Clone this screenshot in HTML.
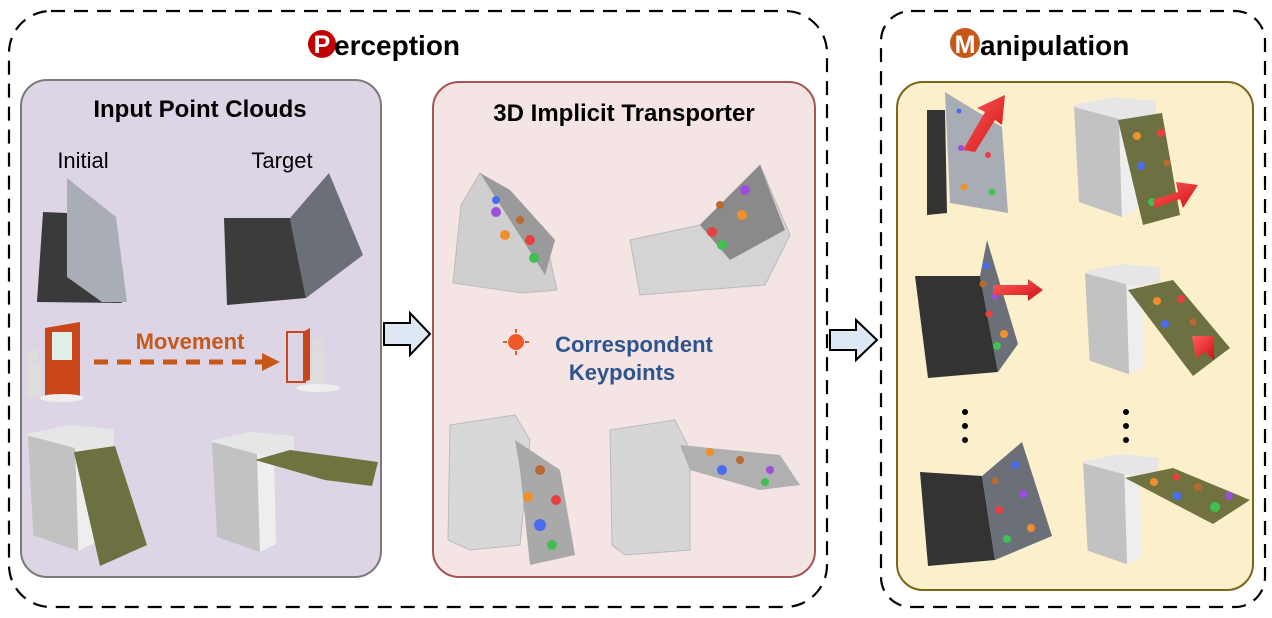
<!DOCTYPE html>
<html><head><meta charset="utf-8"><style>
html,body{margin:0;padding:0;background:#fff;}
svg{display:block;}
text{font-family:"Liberation Sans","DejaVu Sans",sans-serif;}
</style></head><body>
<svg width="1272" height="618" viewBox="0 0 1272 618" xmlns="http://www.w3.org/2000/svg">
<defs>
<linearGradient id="gr" x1="0" y1="0" x2="1" y2="1"><stop offset="0" stop-color="#ff6060"/><stop offset="1" stop-color="#d01010"/></linearGradient>
<g id="box">
 <polygon points="0,8 40,0 82,4 82,20 45,26 0,14" fill="#e6e6e6"/>
 <polygon points="0,10 45,22 48,120 5,105" fill="#c2c2c2"/>
 <polygon points="45,22 62,26 64,112 48,120" fill="#eeeeee"/>
</g>
</defs>

<rect x="9" y="11" width="818" height="596" rx="42" fill="none" stroke="#000" stroke-width="2.2" stroke-dasharray="14,9"/>
<rect x="881" y="11" width="384" height="596" rx="30" fill="none" stroke="#000" stroke-width="2.2" stroke-dasharray="14,9"/>

<circle cx="322" cy="44" r="14" fill="#c00000"/>
<text x="322" y="53" font-size="25" font-weight="bold" fill="#fff" text-anchor="middle">P</text>
<text x="334" y="55" font-size="28" font-weight="bold" fill="#000">erception</text>
<circle cx="965" cy="43" r="15" fill="#c8581a"/>
<text x="965" y="53" font-size="25" font-weight="bold" fill="#fff" text-anchor="middle">M</text>
<text x="980" y="55" font-size="28" font-weight="bold" fill="#000">anipulation</text>

<rect x="21" y="80" width="360" height="497" rx="26" fill="#ddd5e6" stroke="#7a7a7a" stroke-width="2"/>
<rect x="433" y="82" width="382" height="495" rx="26" fill="#f5e4e4" stroke="#a55555" stroke-width="2"/>
<rect x="897" y="82" width="356" height="508" rx="26" fill="#fcf0cc" stroke="#7d6418" stroke-width="2"/>

<text x="200" y="117" font-size="24" font-weight="bold" text-anchor="middle">Input Point Clouds</text>
<text x="624" y="121" font-size="24" font-weight="bold" text-anchor="middle">3D Implicit Transporter</text>
<text x="83" y="168" font-size="22" text-anchor="middle">Initial</text>
<text x="282" y="168" font-size="22" text-anchor="middle">Target</text>

<!-- input laptops -->
<polygon points="43,212 67,213 122,303 37,302" fill="#3a3a3a"/>
<polygon points="67,178 116,217 127,302 102,302 67,277" fill="#a9aeb6"/>
<polygon points="224,218 290,218 306,298 227,305" fill="#3c3c3c"/>
<polygon points="290,218 329,173 363,255 306,298" fill="#6b6f78"/>

<!-- movement -->
<polygon points="45,328 80,322 80,396 45,400" fill="#c8461a"/>
<rect x="52" y="332" width="20" height="28" fill="#dff0e8"/>
<circle cx="33" cy="355" r="6" fill="#ddd"/><rect x="27" y="362" width="15" height="35" fill="#ddd"/>
<ellipse cx="62" cy="398" rx="22" ry="4" fill="#eee"/>
<text x="190" y="349" font-size="22" font-weight="bold" fill="#c8581a" text-anchor="middle">Movement</text>
<line x1="94" y1="362" x2="265" y2="362" stroke="#c8581a" stroke-width="5" stroke-dasharray="14,9"/>
<polygon points="262,353 280,362 262,371" fill="#c8581a"/>
<rect x="287" y="332" width="18" height="50" fill="none" stroke="#c8461a" stroke-width="2"/>
<polygon points="303,332 310,328 310,380 303,382" fill="#c8461a"/>
<circle cx="317" cy="343" r="6" fill="#ddd"/><rect x="310" y="350" width="13" height="36" fill="#ddd"/>
<ellipse cx="318" cy="388" rx="22" ry="4" fill="#eee"/>

<!-- input boxes -->
<g transform="translate(28,425) scale(1.05)"><use href="#box"/></g>
<polygon points="74,452 115,446 147,545 100,566" fill="#6d7040"/>
<g transform="translate(212,432)"><use href="#box"/></g>
<polygon points="255,460 290,450 378,462 372,486 325,480" fill="#70733f"/>

<!-- arrows -->
<polygon points="384,323 410,323 410,313 430,334 410,355 410,345 384,345" fill="#dde8f4" stroke="#000" stroke-width="2"/>
<polygon points="830,330 856,330 856,320 877,340 856,360 856,350 830,350" fill="#dde8f4" stroke="#000" stroke-width="2"/>

<!-- transporter meshes -->
<polygon points="453,283 461,205 480,173 543,227 557,290 522,293" fill="#cfcfcf" stroke="#bbb"/>
<polygon points="480,173 510,190 555,240 545,275" fill="#9a9a9a"/>
<circle cx="496" cy="200" r="4" fill="#4a6cf0"/><circle cx="496" cy="212" r="5" fill="#9c4ee0"/>
<circle cx="520" cy="220" r="4" fill="#b86a30"/><circle cx="505" cy="235" r="5" fill="#f0902a"/>
<circle cx="530" cy="240" r="5" fill="#e84040"/><circle cx="534" cy="258" r="5" fill="#40c050"/>
<polygon points="630,240 700,225 760,165 790,235 765,285 640,295" fill="#d4d4d4" stroke="#bbb"/>
<polygon points="700,225 760,165 785,230 730,260" fill="#8a8a8a"/>
<circle cx="745" cy="190" r="5" fill="#9c4ee0"/><circle cx="720" cy="205" r="4" fill="#b86a30"/>
<circle cx="742" cy="215" r="5" fill="#f0902a"/><circle cx="712" cy="232" r="5" fill="#e84040"/><circle cx="722" cy="245" r="5" fill="#40c050"/>

<circle cx="516" cy="342" r="8" fill="#f05a28"/>
<g stroke="#f05a28" stroke-width="2"><line x1="516" y1="329" x2="516" y2="333"/><line x1="516" y1="351" x2="516" y2="355"/><line x1="503" y1="342" x2="507" y2="342"/><line x1="525" y1="342" x2="529" y2="342"/></g>
<text x="634" y="352" font-size="22" font-weight="bold" fill="#2e5490" text-anchor="middle">Correspondent</text>
<text x="622" y="380" font-size="22" font-weight="bold" fill="#2e5490" text-anchor="middle">Keypoints</text>

<polygon points="450,425 515,415 530,440 520,545 470,550 448,540" fill="#d8d8d8" stroke="#bbb"/>
<polygon points="515,440 560,470 575,555 530,565 520,470" fill="#a9a9a9"/>
<circle cx="540" cy="470" r="5" fill="#b86a30"/><circle cx="528" cy="497" r="5" fill="#f0902a"/><circle cx="556" cy="500" r="5" fill="#e84040"/><circle cx="540" cy="525" r="6" fill="#4a6cf0"/><circle cx="552" cy="545" r="5" fill="#40c050"/>
<polygon points="610,430 675,420 690,450 690,550 625,555 612,545" fill="#d6d6d6" stroke="#bbb"/>
<polygon points="680,445 780,455 800,485 760,490 690,470" fill="#b0b0b0"/>
<circle cx="710" cy="452" r="4" fill="#f0902a"/><circle cx="740" cy="460" r="4" fill="#b86a30"/><circle cx="722" cy="470" r="5" fill="#4a6cf0"/><circle cx="770" cy="470" r="4" fill="#9c4ee0"/><circle cx="765" cy="482" r="4" fill="#40c050"/>

<!-- manipulation row 1 left -->
<polygon points="927,110 945,110 947,213 927,215" fill="#333"/>
<polygon points="945,92 1002,127 1008,213 950,203" fill="#a8acb4"/>
<circle cx="959" cy="111" r="2.5" fill="#4a6cf0"/><circle cx="961" cy="148" r="3" fill="#9c4ee0"/><circle cx="988" cy="155" r="3" fill="#e84040"/><circle cx="964" cy="187" r="3.5" fill="#f0902a"/><circle cx="992" cy="192" r="3.5" fill="#40c050"/>
<polygon points="963,150 985,112 977,108 1005,95 1002,125 995,120 975,152" fill="url(#gr)"/>
<!-- row 1 right -->
<g transform="translate(1074,97)"><use href="#box"/></g>
<polygon points="1118,120 1162,113 1180,215 1143,225" fill="#6d7040"/>
<circle cx="1137" cy="136" r="4" fill="#f0902a"/><circle cx="1161" cy="133" r="4" fill="#e84040"/><circle cx="1141" cy="166" r="4" fill="#4a6cf0"/><circle cx="1167" cy="163" r="3.5" fill="#b86a30"/><circle cx="1152" cy="202" r="4" fill="#40c050"/>
<polygon points="1153,200 1178,192 1176,182 1198,185 1183,208 1180,199 1155,208" fill="url(#gr)"/>

<!-- row 2 left -->
<polygon points="915,276 980,276 998,372 928,378" fill="#333"/>
<polygon points="980,276 987,240 1018,344 998,372" fill="#6b6f78"/>
<circle cx="986" cy="266" r="3.5" fill="#4a6cf0"/><circle cx="983" cy="284" r="3.5" fill="#b86a30"/><circle cx="995" cy="296" r="3.5" fill="#9c4ee0"/><circle cx="989" cy="314" r="3.5" fill="#e84040"/><circle cx="1004" cy="334" r="4" fill="#f0902a"/><circle cx="997" cy="346" r="4" fill="#40c050"/>
<polygon points="993,285 1028,285 1028,279 1043,290 1028,301 1028,295 993,295" fill="url(#gr)"/>
<!-- row 2 right -->
<g transform="translate(1085,264) scale(0.92)"><use href="#box"/></g>
<polygon points="1128,290 1173,280 1230,348 1193,376" fill="#6d7040"/>
<circle cx="1157" cy="301" r="4" fill="#f0902a"/><circle cx="1181" cy="299" r="4" fill="#e84040"/><circle cx="1165" cy="324" r="4" fill="#4a6cf0"/><circle cx="1193" cy="322" r="3.5" fill="#b86a30"/>
<polygon points="1192,336 1214,336 1214,360 1205,352 1196,358" fill="url(#gr)"/>

<!-- dots -->
<g fill="#000"><circle cx="965" cy="412" r="3"/><circle cx="965" cy="426" r="3"/><circle cx="965" cy="440" r="3"/>
<circle cx="1126" cy="412" r="3"/><circle cx="1126" cy="426" r="3"/><circle cx="1126" cy="440" r="3"/></g>

<!-- row 3 left -->
<polygon points="920,472 982,476 995,560 928,566" fill="#333"/>
<polygon points="982,476 1022,442 1052,536 995,560" fill="#6b6f78"/>
<circle cx="1015" cy="465" r="4" fill="#4a6cf0"/><circle cx="995" cy="481" r="3.5" fill="#b86a30"/><circle cx="1023" cy="494" r="4" fill="#9c4ee0"/><circle cx="999" cy="510" r="4" fill="#e84040"/><circle cx="1031" cy="528" r="4" fill="#f0902a"/><circle cx="1007" cy="539" r="4" fill="#40c050"/>
<!-- row 3 right -->
<g transform="translate(1083,454) scale(0.92)"><use href="#box"/></g>
<polygon points="1125,478 1173,468 1250,500 1213,524" fill="#70733f"/>
<circle cx="1154" cy="482" r="4" fill="#f0902a"/><circle cx="1176" cy="477" r="3.5" fill="#e84040"/><circle cx="1198" cy="487" r="4" fill="#b86a30"/><circle cx="1177" cy="496" r="4.5" fill="#4a6cf0"/><circle cx="1229" cy="496" r="4" fill="#9c4ee0"/><circle cx="1215" cy="507" r="5" fill="#40c050"/>
</svg>
</body></html>
